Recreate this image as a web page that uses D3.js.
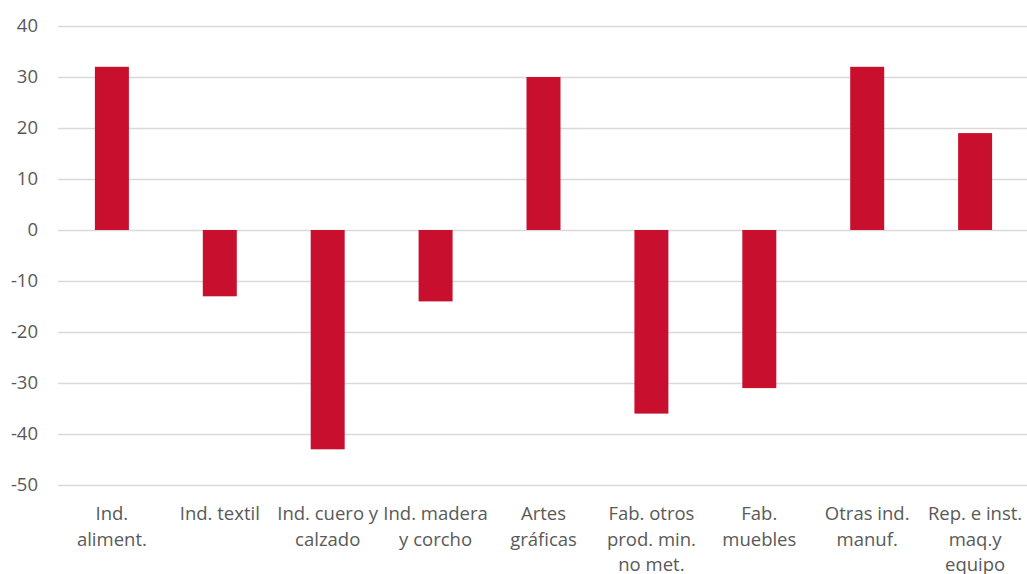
<!DOCTYPE html>
<html>
<head>
<meta charset="utf-8">
<script src="https://cdn.jsdelivr.net/npm/d3@7"></script>
<style>
  body { margin: 0; background: #fff; }
  svg text { font-family: "Open Sans", "Liberation Sans", sans-serif; fill: #595959; }
</style>
</head>
<body>
<svg id="chart" width="1027" height="574"></svg>
<script>
// data
const categories = [
  "Ind. aliment.",
  "Ind. textil",
  "Ind. cuero y calzado",
  "Ind. madera y corcho",
  "Artes gráficas",
  "Fab. otros prod. min. no met.",
  "Fab. muebles",
  "Otras ind. manuf.",
  "Rep. e inst. maq.y equipo"
];
// how the axis labels wrap
const labelLines = [
  ["Ind.", "aliment."],
  ["Ind. textil"],
  ["Ind. cuero y", "calzado"],
  ["Ind. madera", "y corcho"],
  ["Artes", "gráficas"],
  ["Fab. otros", "prod. min.", "no met."],
  ["Fab.", "muebles"],
  ["Otras ind.", "manuf."],
  ["Rep. e inst.", "maq.y", "equipo"]
];
const values = [32, -13, -43, -14, 30, -36, -31, 32, 19];
const yTicks = [-50, -40, -30, -20, -10, 0, 10, 20, 30, 40];

const svg = d3.select("#chart");
const margin = { top: 26, right: -2, bottom: 89, left: 58 };
const width = +svg.attr("width") - margin.left - margin.right;
const height = +svg.attr("height") - margin.top - margin.bottom;

const x = d3.scaleBand().domain(categories).range([0, width]).paddingInner(0.685).paddingOuter(0.342);
const y = d3.scaleLinear().domain([-50, 40]).range([height, 0]);

const g = svg.append("g").attr("transform", `translate(${margin.left},${margin.top})`);

// gridlines + y labels
const yAxis = g.append("g")
  .call(d3.axisLeft(y).tickValues(yTicks).tickSize(-width).tickPadding(20).tickFormat(d => String(d)));
yAxis.select(".domain").remove();
yAxis.selectAll(".tick line").attr("stroke", "#d9d9d9").attr("stroke-width", 1.3);
yAxis.selectAll(".tick text")
  .attr("font-size", 18.5)
  .style("fill", "#595959");

// bars
g.selectAll(".bar")
  .data(values)
  .enter()
  .append("rect")
  .attr("class", "bar")
  .attr("x", (d, i) => x(categories[i]))
  .attr("width", x.bandwidth())
  .attr("y", d => y(Math.max(0, d)))
  .attr("height", d => Math.abs(y(d) - y(0)))
  .attr("fill", "#c8102e");

// category labels
const labels = g.append("g")
  .selectAll("text")
  .data(categories)
  .enter()
  .append("text")
  .attr("text-anchor", "middle")
  .attr("font-size", 18.5)
  .attr("x", d => x(d) + x.bandwidth() / 2)
  .attr("y", height + 35);

labels.each(function (d, i) {
  labelLines[i].forEach((line, j) => {
    d3.select(this).append("tspan")
      .attr("x", x(d) + x.bandwidth() / 2)
      .attr("dy", j === 0 ? 0 : 25.5)
      .text(line);
  });
});
</script>
</body>
</html>
